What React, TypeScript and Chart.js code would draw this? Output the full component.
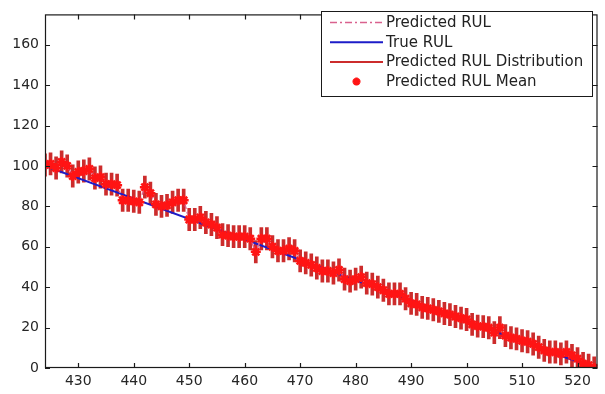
import React, { useEffect, useRef } from "react";
import { Chart, registerables } from "chart.js";

Chart.register(...registerables);

// ---- data ----
const CYCLES = [
  424, 425, 426, 427, 428, 429, 430, 431, 432, 433,
  434, 435, 436, 437, 438, 439, 440, 441, 442, 443,
  444, 445, 446, 447, 448, 449, 450, 451, 452, 453,
  454, 455, 456, 457, 458, 459, 460, 461, 462, 463,
  464, 465, 466, 467, 468, 469, 470, 471, 472, 473,
  474, 475, 476, 477, 478, 479, 480, 481, 482, 483,
  484, 485, 486, 487, 488, 489, 490, 491, 492, 493,
  494, 495, 496, 497, 498, 499, 500, 501, 502, 503,
  504, 505, 506, 507, 508, 509, 510, 511, 512, 513,
  514, 515, 516, 517, 518, 519, 520, 521, 522, 523,
];

const PREDICTED_MEAN = [
  100.5, 101, 99, 102, 100, 95, 97, 97.5, 98.5, 94,
  94.5, 91, 91, 90.5, 83, 83, 82.5, 82, 89.5, 86.5,
  81, 80, 80.5, 82, 83, 83, 73.5, 73.5, 74.5, 72,
  71, 69.5, 66, 65.5, 65, 65, 65, 64, 57.5, 64,
  64, 60, 58, 58, 59, 58, 53, 52, 51, 49.5,
  48, 48, 47, 48.5, 44, 43, 44, 45, 42, 41.5,
  40, 38.5, 36.7, 36.7, 36.7, 34.3, 32, 31.5, 30, 29.5,
  28.8, 28, 27, 26.4, 25.5, 24.7, 24, 21.6, 20.7, 20.5,
  19.9, 17.5, 20, 16, 15, 14.4, 13.5, 13, 11.9, 10.3,
  8.7, 7.9, 7.9, 7, 7.9, 6.2, 4.6, 2.2, 1.4, 0,
];

const DIST_HALF_WIDTH = 5.5;

const TRUE_CYCLES = [424, 523];
const TRUE_RUL = [100, 0];

const X_TICKS = [430, 440, 450, 460, 470, 480, 490, 500, 510, 520];
const Y_TICKS = [0, 20, 40, 60, 80, 100, 120, 140, 160];

const LEGEND_LABELS = [
  "Predicted RUL",
  "True RUL",
  "Predicted RUL Distribution",
  "Predicted RUL Mean",
];

const FONT = "'DejaVu Sans', sans-serif";
const PRED_COLOR = "#d9628e";
const TRUE_COLOR = "#1c1cc8";
const DIST_COLOR = "#cc2c2c";
const MEAN_COLOR = "#ff1414";

const framePlugin = {
  id: "matlabFrame",
  afterDatasetsDraw(chart: any) {
    const { ctx, chartArea: a, scales } = chart;
    ctx.save();
    ctx.strokeStyle = "#1a1a1a";
    ctx.lineWidth = 1.2;
    ctx.strokeRect(a.left + 0.5, a.top + 0.5, a.right - a.left - 1, a.bottom - a.top - 1);
    const L = 5;
    ctx.beginPath();
    X_TICKS.forEach((v) => {
      const px = Math.round(scales.x.getPixelForValue(v)) + 0.5;
      ctx.moveTo(px, a.bottom);
      ctx.lineTo(px, a.bottom - L);
      ctx.moveTo(px, a.top);
      ctx.lineTo(px, a.top + L);
    });
    Y_TICKS.forEach((v) => {
      const py = Math.round(scales.y.getPixelForValue(v)) + 0.5;
      ctx.moveTo(a.left, py);
      ctx.lineTo(a.left + L, py);
      ctx.moveTo(a.right, py);
      ctx.lineTo(a.right - L, py);
    });
    ctx.stroke();
    ctx.restore();
  },
  afterDraw(chart: any) {
    const { ctx } = chart;
    const bx = 321.5, by = 11.5, bw = 271, bh = 85;
    ctx.save();
    ctx.fillStyle = "#ffffff";
    ctx.fillRect(bx, by, bw, bh);
    ctx.strokeStyle = "#1a1a1a";
    ctx.lineWidth = 1;
    ctx.strokeRect(bx, by, bw, bh);
    const rows = [22.5, 42.2, 61.9, 81.6];
    const x0 = 330, x1 = 383;
    // Predicted RUL (dash-dot)
    ctx.lineWidth = 1.5;
    ctx.strokeStyle = PRED_COLOR;
    ctx.setLineDash([7, 3, 2, 3]);
    ctx.beginPath();
    ctx.moveTo(x0, rows[0]);
    ctx.lineTo(x1, rows[0]);
    ctx.stroke();
    ctx.setLineDash([]);
    // True RUL
    ctx.strokeStyle = TRUE_COLOR;
    ctx.lineWidth = 2;
    ctx.beginPath();
    ctx.moveTo(x0, rows[1]);
    ctx.lineTo(x1, rows[1]);
    ctx.stroke();
    // Distribution
    ctx.strokeStyle = DIST_COLOR;
    ctx.beginPath();
    ctx.moveTo(x0, rows[2]);
    ctx.lineTo(x1, rows[2]);
    ctx.stroke();
    // Mean marker (star)
    const cx = (x0 + x1) / 2, cy = rows[3], r = 4;
    ctx.strokeStyle = MEAN_COLOR;
    ctx.lineWidth = 2.5;
    ctx.beginPath();
    ctx.moveTo(cx - r, cy); ctx.lineTo(cx + r, cy);
    ctx.moveTo(cx, cy - r); ctx.lineTo(cx, cy + r);
    const d = r * 0.7;
    ctx.moveTo(cx - d, cy - d); ctx.lineTo(cx + d, cy + d);
    ctx.moveTo(cx - d, cy + d); ctx.lineTo(cx + d, cy - d);
    ctx.stroke();
    // texts
    ctx.fillStyle = "#222222";
    ctx.font = `15px ${FONT}`;
    ctx.textBaseline = "middle";
    ctx.textAlign = "left";
    LEGEND_LABELS.forEach((t, i) => ctx.fillText(t, 386, rows[i] + 0.5));
    ctx.restore();
  },
};

export default function App() {
  const canvasRef = useRef<HTMLCanvasElement | null>(null);

  useEffect(() => {
    document.body.style.margin = "0";
    const canvas = canvasRef.current;
    if (!canvas) return;

    const meanPoints = CYCLES.map((x, i) => ({ x, y: PREDICTED_MEAN[i] }));
    const distBars = CYCLES.map((x, i) => ({
      x,
      y: [PREDICTED_MEAN[i] - DIST_HALF_WIDTH, PREDICTED_MEAN[i] + DIST_HALF_WIDTH],
    }));
    const truePoints = TRUE_CYCLES.map((x, i) => ({ x, y: TRUE_RUL[i] }));

    const chart = new Chart(canvas, {
      type: "line",
      data: {
        datasets: [
          {
            type: "line",
            label: LEGEND_LABELS[0],
            data: meanPoints,
            borderColor: PRED_COLOR,
            borderWidth: 1.5,
            borderDash: [7, 3, 2, 3],
            pointRadius: 0,
            fill: false,
            tension: 0,
            order: 1,
          },
          {
            type: "line",
            label: LEGEND_LABELS[1],
            data: truePoints,
            borderColor: TRUE_COLOR,
            borderWidth: 2,
            pointRadius: 0,
            fill: false,
            order: 2,
          },
          {
            type: "bar",
            label: LEGEND_LABELS[2],
            data: distBars as any,
            backgroundColor: DIST_COLOR,
            borderWidth: 0,
            barThickness: 3,
            grouped: false,
            order: 3,
          } as any,
          {
            type: "line",
            label: LEGEND_LABELS[3],
            data: meanPoints,
            showLine: false,
            pointStyle: "star",
            pointRadius: 5,
            pointBorderWidth: 2.5,
            pointBorderColor: MEAN_COLOR,
            pointBackgroundColor: MEAN_COLOR,
            order: 0,
          },
        ],
      },
      options: {
        animation: false,
        responsive: true,
        maintainAspectRatio: false,
        layout: { padding: { top: 4, right: 5, left: 0, bottom: 0 } },
        plugins: {
          legend: { display: false },
          tooltip: { enabled: false },
        },
        scales: {
          x: {
            type: "linear",
            min: 424,
            max: 523.6,
            offset: false,
            grid: { display: false, drawTicks: false },
            border: { display: false },
            afterBuildTicks: (s: any) => {
              s.ticks = X_TICKS.map((v) => ({ value: v }));
            },
            afterFit: (s: any) => {
              s.height = 26;
            },
            ticks: {
              font: { family: FONT, size: 14 },
              color: "#262626",
              padding: 5,
              maxRotation: 0,
              autoSkip: false,
            },
          },
          y: {
            type: "linear",
            min: 0,
            max: 175,
            grid: { display: false, drawTicks: false },
            border: { display: false },
            afterBuildTicks: (s: any) => {
              s.ticks = Y_TICKS.map((v) => ({ value: v }));
            },
            afterFit: (s: any) => {
              s.width = 45;
            },
            ticks: {
              font: { family: FONT, size: 14 },
              color: "#262626",
              padding: 6,
              autoSkip: false,
            },
          },
        },
      },
      plugins: [framePlugin],
    } as any);

    return () => chart.destroy();
  }, []);

  return (
    <div style={{ width: 605, height: 394, position: "relative", background: "#fff" }}>
      <canvas ref={canvasRef} />
    </div>
  );
}
